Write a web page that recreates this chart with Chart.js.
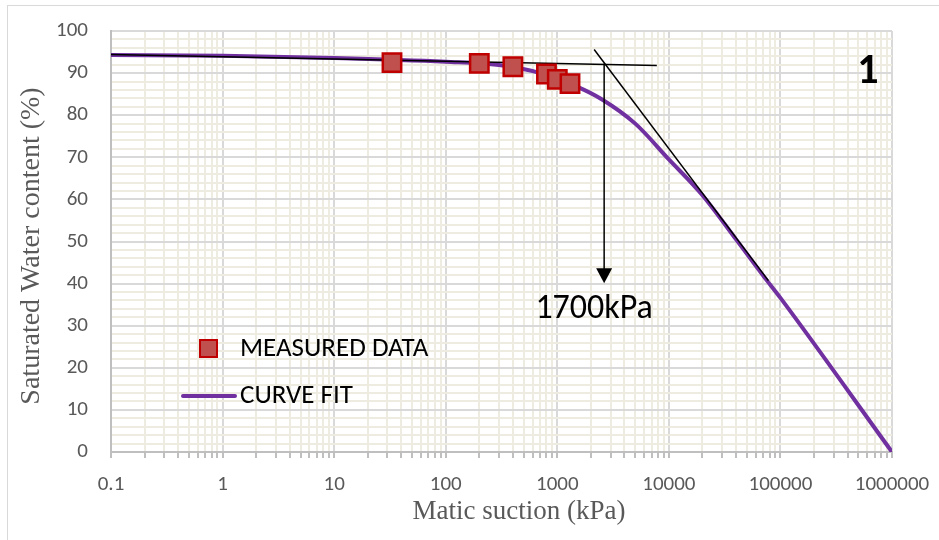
<!DOCTYPE html>
<html>
<head>
<meta charset="utf-8">
<script src="https://cdn.jsdelivr.net/npm/chart.js@4.4.1/dist/chart.umd.min.js"></script>
<style>
  html, body { margin: 0; padding: 0; background: #fff; }
  #wrap { position: relative; width: 939px; height: 540px; }
</style>
</head>
<body>
<div id="wrap"><canvas id="swcc" width="939" height="540"></canvas></div>
<script>
// measured points: suction (kPa) and saturated water content (%)
const measuredSuction = [33, 200, 400, 800, 1000, 1300];
const measuredWater = [92.5, 92.3, 91.5, 89.8, 88.5, 87.5];

// curve fit
const fitSuction = [0.1, 1, 10, 100, 300, 700, 1500, 2500, 5000, 10000, 20000, 40000, 70000, 100000, 1000000];
const fitWater = [94.3, 94.1, 93.6, 92.7, 91.9, 90.0, 86.8, 83.8, 78.0, 69.5, 61.0, 50.5, 41.9, 36.6, 0];

// construction lines
const flatSuction = [0.1, 7800];
const flatWater = [94.4, 91.8];
const tangentSuction = [2140, 78000];
const tangentWater = [95.6, 40.7];
const arrowSuction = 2630;
const arrowWater = [92.3, 40.1];
const arrowLabel = "1700kPa";
const panelLabel = "1";

// axes
const xDecades = [0.1, 1, 10, 100, 1000, 10000, 100000, 1000000];
const xTickLabels = ["0.1", "1", "10", "100", "1000", "10000", "100000", "1000000"];
const yTickLabels = [0, 10, 20, 30, 40, 50, 60, 70, 80, 90, 100];
const xTitle = "Matic suction (kPa)";
const yTitle = "Saturated Water content (%)";

const legendNames = ["MEASURED DATA", "CURVE FIT"];

const MAJOR = "#d9d9d9";
const MINOR = "#eeece1";
const PURPLE = "#7030a0";
const SQ_FILL = "#c0504d";
const SQ_EDGE = "#c00000";

const pairs = (xs, ys) => xs.map((x, i) => ({ x: x, y: ys[i] }));

function decadeIndex(v) {
  for (let i = 0; i < xDecades.length; i++) {
    if (Math.abs(v - xDecades[i]) < xDecades[i] * 1e-6) return i;
  }
  return -1;
}

const extras = {
  id: "extras",
  beforeDraw(chart) {
    const ctx = chart.ctx;
    ctx.save();
    ctx.fillStyle = "#fff";
    ctx.fillRect(0, 0, chart.width, chart.height);
    ctx.strokeStyle = MAJOR;
    ctx.lineWidth = 1;
    ctx.strokeRect(7.5, 5.5, 1000, 1000);
    ctx.restore();
  },
  afterDraw(chart) {
    const ctx = chart.ctx;
    const xs = chart.scales.x, ys = chart.scales.y;
    ctx.save();

    // axis titles (serif, slightly off-centre like the original)
    ctx.fillStyle = "#595959";
    ctx.font = "27px 'Liberation Serif', serif";
    ctx.textAlign = "center";
    ctx.textBaseline = "middle";
    ctx.fillText(xTitle, 519, 512);
    ctx.save();
    ctx.translate(32, 246);
    ctx.rotate(-Math.PI / 2);
    ctx.font = "28px 'Liberation Serif', serif";
    ctx.fillText(yTitle, 0, 0);
    ctx.restore();

    // arrow down from the intersection
    const ax = xs.getPixelForValue(arrowSuction);
    const y0 = ys.getPixelForValue(arrowWater[0]);
    const y1 = ys.getPixelForValue(arrowWater[1]);
    ctx.strokeStyle = "#000";
    ctx.fillStyle = "#000";
    ctx.lineWidth = 1.5;
    ctx.beginPath();
    ctx.moveTo(ax, y0);
    ctx.lineTo(ax, y1 - 14);
    ctx.stroke();
    ctx.beginPath();
    ctx.moveTo(ax - 8, y1 - 15);
    ctx.lineTo(ax + 8, y1 - 15);
    ctx.lineTo(ax, y1);
    ctx.closePath();
    ctx.fill();

    ctx.font = "34px Carlito, Lato, sans-serif";
    ctx.textAlign = "center";
    ctx.textBaseline = "alphabetic";
    ctx.fillText(arrowLabel, ax - 10, y1 + 35);

    ctx.font = "bold 42px Carlito, Lato, sans-serif";
    ctx.fillText(panelLabel, 868, 83);

    // legend inside the plot
    ctx.font = "27px Carlito, Lato, sans-serif";
    ctx.textAlign = "left";
    ctx.textBaseline = "middle";
    ctx.fillStyle = SQ_FILL;
    ctx.strokeStyle = SQ_EDGE;
    ctx.lineWidth = 2;
    ctx.fillRect(200, 340, 17, 17);
    ctx.strokeRect(200, 340, 17, 17);
    ctx.fillStyle = "#000";
    ctx.fillText(legendNames[0], 240, 349);

    ctx.strokeStyle = PURPLE;
    ctx.lineWidth = 4;
    ctx.lineCap = "round";
    ctx.beginPath();
    ctx.moveTo(183, 396);
    ctx.lineTo(235, 396);
    ctx.stroke();
    ctx.fillText(legendNames[1], 240, 396);
    ctx.restore();
  }
};

new Chart(document.getElementById("swcc"), {
  type: "scatter",
  data: {
    datasets: [
      {
        label: legendNames[0],
        data: pairs(measuredSuction, measuredWater),
        pointStyle: "rect",
        pointRadius: 13,
        backgroundColor: SQ_FILL,
        borderColor: SQ_EDGE,
        borderWidth: 2.5,
        showLine: false,
        order: 0
      },
      {
        label: "flat",
        data: pairs(flatSuction, flatWater),
        showLine: true,
        borderColor: "#000",
        borderWidth: 1.5,
        pointRadius: 0,
        order: 1
      },
      {
        label: "tangent",
        data: pairs(tangentSuction, tangentWater),
        showLine: true,
        borderColor: "#000",
        borderWidth: 1.5,
        pointRadius: 0,
        order: 1
      },
      {
        label: legendNames[1],
        data: pairs(fitSuction, fitWater),
        showLine: true,
        borderColor: PURPLE,
        borderWidth: 4,
        pointRadius: 0,
        cubicInterpolationMode: "monotone",
        order: 2
      }
    ]
  },
  options: {
    responsive: false,
    animation: false,
    layout: { padding: { top: 31, right: 47, left: 0, bottom: 0 } },
    plugins: { legend: { display: false }, tooltip: { enabled: false } },
    scales: {
      x: {
        type: "logarithmic",
        min: 0.1,
        max: 1000000,
        afterBuildTicks(scale) {
          const t = [];
          xDecades.forEach((d, i) => {
            const last = i === xDecades.length - 1;
            for (let k = 1; k <= (last ? 1 : 9); k++) t.push({ value: +(d * k).toPrecision(6) });
          });
          scale.ticks = t;
        },
        afterFit(scale) {
          scale.height = 88;
          scale.paddingLeft = 0;
          scale.paddingRight = 0;
        },
        grid: {
          color: (c) => decadeIndex(c.tick.value) >= 0 ? MAJOR : MINOR,
          tickColor: "#bfbfbf",
          lineWidth: 2,
          tickLength: 6
        },
        border: { color: "#bfbfbf", width: 2 },
        ticks: {
          autoSkip: false,
          maxRotation: 0,
          padding: 14,
          color: "#595959",
          font: { family: "Carlito, Lato, sans-serif", size: 21 },
          callback: (v) => {
            const i = decadeIndex(v);
            return i >= 0 ? xTickLabels[i] : "";
          }
        }
      },
      y: {
        min: 0,
        max: 100,
        afterFit(scale) {
          scale.width = 111;
          scale.paddingTop = 0;
          scale.paddingBottom = 0;
        },
        grid: {
          color: (c) => yTickLabels.includes(c.tick.value) ? MAJOR : MINOR,
          lineWidth: 2,
          tickColor: "rgba(0,0,0,0)",
          tickLength: 6
        },
        border: { color: "#bfbfbf", width: 2 },
        ticks: {
          stepSize: 2,
          autoSkip: false,
          padding: 17,
          color: "#595959",
          font: { family: "Carlito, Lato, sans-serif", size: 21 },
          callback: (v) => yTickLabels.includes(v) ? String(v) : ""
        }
      }
    }
  },
  plugins: [extras]
});
</script>
</body>
</html>
